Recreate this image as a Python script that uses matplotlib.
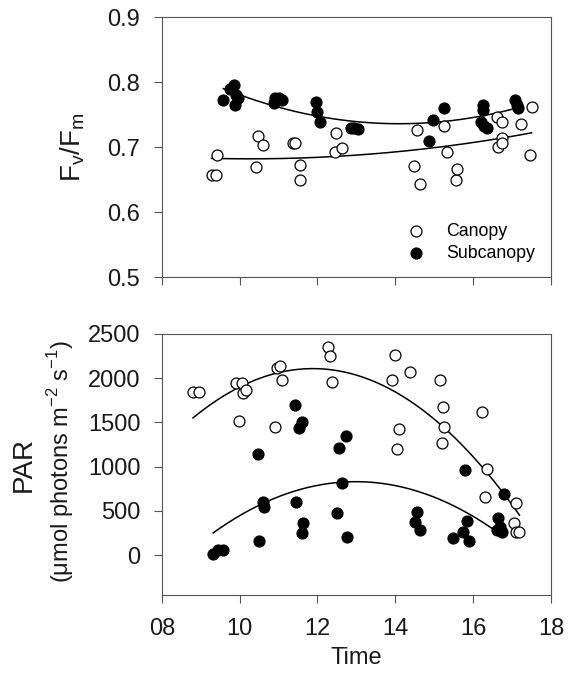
import numpy as np
import matplotlib.pyplot as plt

plt.rcParams['font.family'] = ['Liberation Sans', 'DejaVu Sans']

# Fv/Fm, canopy (open) and subcanopy (filled)
fv_can_t = [9.28, 9.38, 9.41, 10.43, 10.48, 10.59, 11.37, 11.41, 11.55, 11.55,
            12.45, 12.47, 12.64, 14.48, 14.56, 14.63, 15.25, 15.32, 15.56, 15.59,
            16.6, 16.63, 16.73, 16.75, 16.75, 17.23, 17.46, 17.5]
fv_can = [0.657, 0.657, 0.688, 0.669, 0.717, 0.703, 0.706, 0.706, 0.673, 0.649,
          0.693, 0.721, 0.699, 0.671, 0.727, 0.643, 0.732, 0.693, 0.649, 0.666,
          0.747, 0.700, 0.738, 0.714, 0.707, 0.735, 0.688, 0.761]
fv_sub_t = [9.58, 9.75, 9.85, 9.88, 9.9, 9.95, 10.88, 10.9, 11.0, 11.08,
            11.96, 12.0, 12.06, 12.85, 12.95, 13.04, 14.87, 14.96, 15.25,
            16.2, 16.24, 16.24, 16.28, 16.35, 17.08, 17.12, 17.15]
fv_sub = [0.772, 0.790, 0.795, 0.765, 0.780, 0.775, 0.768, 0.775, 0.776, 0.773,
          0.770, 0.754, 0.739, 0.729, 0.729, 0.728, 0.710, 0.742, 0.760,
          0.739, 0.765, 0.757, 0.733, 0.730, 0.772, 0.765, 0.760]

# PAR, canopy (open) and subcanopy (filled)
par_can_t = [8.8, 8.96, 9.9, 9.98, 10.05, 10.09, 10.16, 10.9, 10.95, 11.03,
             11.1, 12.28, 12.32, 12.36, 13.92, 13.99, 14.05, 14.1, 14.38,
             15.15, 15.19, 15.22, 15.25, 16.23, 16.3, 16.35, 17.05, 17.11,
             17.1, 17.19]
par_can = [1844, 1840, 1942, 1520, 1942, 1836, 1867, 1452, 2112, 2138,
           1980, 2356, 2251, 1961, 1980, 2255, 1200, 1422, 2067,
           1980, 1264, 1678, 1445, 1613, 660, 970, 366, 594,
           257, 257]
par_sub_t = [9.32, 9.45, 9.56, 10.46, 10.5, 10.6, 10.62, 11.42, 11.46, 11.53,
             11.59, 11.6, 11.64, 12.5, 12.56, 12.62, 12.73, 12.76, 14.5,
             14.55, 14.63, 15.47, 15.75, 15.79, 15.83, 15.9, 16.6, 16.65,
             16.69, 16.73, 16.79]
par_sub = [12, 57, 57, 1143, 162, 603, 547, 1697, 596, 1432,
           1508, 246, 366, 481, 1214, 811, 1346, 211, 379,
           492, 283, 200, 266, 962, 390, 159, 283, 416,
           321, 264, 690]

x_ticks = [8, 10, 12, 14, 16, 18]
x_labels = ['08', '10', '12', '14', '16', '18']


def draw_series(ax, t, y, filled):
    t = np.array(t)
    y = np.array(y)
    face = 'black' if filled else 'white'
    ax.scatter(t, y, s=62, facecolor=face, edgecolor='black', linewidth=0.9, zorder=3)
    coef = np.polyfit(t, y, 2)
    tt = np.linspace(t.min(), t.max(), 200)
    ax.plot(tt, np.polyval(coef, tt), color='black', linewidth=1.1, zorder=2)


def style_axes(ax):
    ax.set_xlim(8, 18)
    ax.set_xticks(x_ticks)
    ax.tick_params(direction='out', length=5.5, width=0.8, labelsize=17, colors='#555555',
                   labelcolor='#1a1a1a')
    ax.tick_params(axis='y', pad=10)
    for s in ax.spines.values():
        s.set_linewidth(0.8)
        s.set_color('#555555')


fig = plt.figure(figsize=(5.8, 6.84), dpi=100)
ax1 = fig.add_axes([0.279, 0.595, 0.671, 0.380])
ax2 = fig.add_axes([0.279, 0.130, 0.671, 0.382])

draw_series(ax1, fv_can_t, fv_can, False)
draw_series(ax1, fv_sub_t, fv_sub, True)
style_axes(ax1)
ax1.set_ylim(0.5, 0.9)
ax1.set_yticks([0.5, 0.6, 0.7, 0.8, 0.9])
ax1.set_yticklabels(['0.5', '0.6', '0.7', '0.8', '0.9'])
ax1.set_xticklabels([])
ax1.text(-0.229, 0.50, r'F$_\mathregular{v}$/F$_\mathregular{m}$', transform=ax1.transAxes,
         rotation=90, ha='center', va='center', fontsize=20, color='#1a1a1a')

ax1.scatter([], [], s=62, facecolor='white', edgecolor='black', linewidth=0.9, label='Canopy')
ax1.scatter([], [], s=62, facecolor='black', edgecolor='black', linewidth=0.9, label='Subcanopy')
ax1.legend(loc='lower right', frameon=False, fontsize=12.8, handlelength=1.0,
           handletextpad=1.2, borderaxespad=0, labelspacing=0.3,
           bbox_to_anchor=(0.977, 0.03))

draw_series(ax2, par_can_t, par_can, False)
draw_series(ax2, par_sub_t, par_sub, True)
style_axes(ax2)
ax2.set_ylim(-450, 2500)
ax2.set_yticks([0, 500, 1000, 1500, 2000, 2500])
ax2.set_xticklabels(x_labels)
ax2.tick_params(axis='x', pad=11)
ax2.set_xlabel('Time', fontsize=17, labelpad=5, color='#1a1a1a')
ax2.text(-0.355, 0.498, 'PAR', transform=ax2.transAxes, rotation=90,
         ha='center', va='center', fontsize=20, color='#1a1a1a')
ax2.text(-0.26, 0.51, r'($\mathregular{\mu}$mol photons m$^{\mathregular{-2}}$ s$^{\mathregular{-1}}$)',
         transform=ax2.transAxes, rotation=90, ha='center', va='center', fontsize=17,
         color='#1a1a1a')

fig.savefig('out.png', dpi=100)
